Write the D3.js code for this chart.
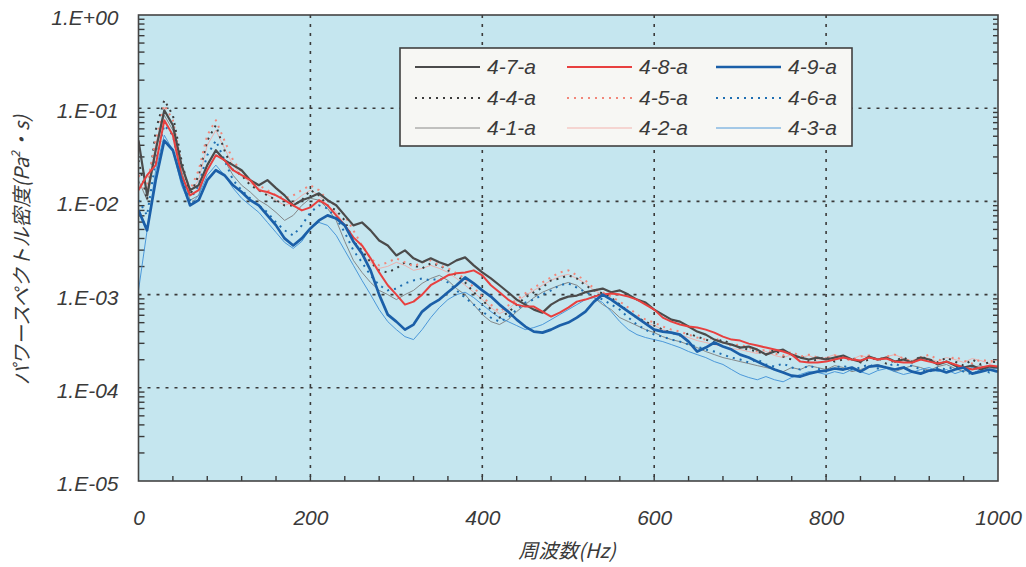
<!DOCTYPE html>
<html>
<head>
<meta charset="utf-8">
<script src="https://cdn.jsdelivr.net/npm/d3@7"></script>
<style>
  body { margin: 0; background: #ffffff; }
  svg text { font-family: "Liberation Sans", Arial, sans-serif; font-style: italic; fill: #3a3a3a; }
  svg text.jp { font-family: "Noto Sans CJK JP", sans-serif; }
</style>
</head>
<body>
<svg id="chart" width="1026" height="567"></svg>
<script>
// Frequency samples (Hz)
const freqHz = [0,10,20,30,40,50,60,70,80,90,100,110,120,130,140,150,160,170,180,190,
  200,210,220,230,240,250,260,270,280,290,300,310,320,330,340,350,360,370,380,390,
  400,410,420,430,440,450,460,470,480,490,500,510,520,530,540,550,560,570,580,590,
  600,610,620,630,640,650,660,670,680,690,700,710,720,730,740,750,760,770,780,790,
  800,810,820,830,840,850,860,870,880,890,900,910,920,930,940,950,960,970,980,990,1000];

// Power spectral density, Pa^2·s
const psd_4_1_a = [0.0169,0.0103,0.0354,0.0841,0.0581,0.0216,0.0103,0.0116,0.0245,0.0354,
  0.0277,0.0191,0.0149,0.0126,0.0103,0.00906,0.00762,0.00625,0.00708,0.00906,
  0.0108,0.0103,0.00841,0.00625,0.00372,0.00233,0.00173,0.00135,0.00111,1.0e-3,
  8.84e-4,1.0e-3,1.11e-3,1.32e-3,1.49e-3,1.61e-3,1.42e-3,1.16e-3,1.0e-3,7.81e-4,
  6.1e-4,5.13e-4,4.77e-4,5.39e-4,6.57e-4,7.81e-4,9.29e-4,1.06e-3,1.16e-3,1.26e-3,
  1.35e-3,1.26e-3,1.06e-3,9.29e-4,7.81e-4,6.9e-4,5.66e-4,5.13e-4,4.65e-4,4.21e-4,
  3.91e-4,3.54e-4,3.29e-4,3.13e-4,2.91e-4,2.70e-4,2.45e-4,2.27e-4,2.11e-4,2.01e-4,
  1.91e-4,1.82e-4,1.73e-4,1.65e-4,1.57e-4,1.49e-4,1.65e-4,1.57e-4,1.73e-4,1.65e-4,
  1.57e-4,1.73e-4,1.65e-4,1.49e-4,1.57e-4,1.69e-4,1.78e-4,1.65e-4,1.49e-4,1.61e-4,
  1.73e-4,1.65e-4,1.53e-4,1.69e-4,1.78e-4,1.61e-4,1.49e-4,1.65e-4,1.73e-4,1.57e-4,1.65e-4];

const psd_4_2_a = [0.0149,0.0132,0.0401,0.0952,0.0657,0.0227,0.0126,0.0169,0.0401,0.0581,
  0.0372,0.0245,0.0191,0.0157,0.0139,0.0119,0.0103,0.00906,0.00976,0.0116,
  0.0132,0.0116,0.00906,0.00762,0.00553,0.00363,0.00263,0.00222,0.00191,0.00201,
  0.00222,0.00206,0.00182,0.00191,0.00206,0.00191,0.00173,0.00149,0.00126,0.00106,
  8.84e-4,7.25e-4,6.25e-4,6.9e-4,8.41e-4,9.76e-4,1.11e-3,1.26e-3,1.42e-3,1.57e-3,
  1.65e-3,1.49e-3,1.32e-3,1.11e-3,1.0e-3,8.84e-4,7.62e-4,6.57e-4,5.66e-4,5.01e-4,
  4.65e-4,4.21e-4,3.91e-4,3.72e-4,3.46e-4,3.21e-4,3.06e-4,2.91e-4,2.77e-4,2.63e-4,
  2.57e-4,2.45e-4,2.33e-4,2.45e-4,2.22e-4,2.11e-4,2.27e-4,2.11e-4,2.22e-4,2.01e-4,
  2.11e-4,2.27e-4,2.11e-4,2.01e-4,2.22e-4,2.11e-4,1.96e-4,2.16e-4,2.27e-4,2.06e-4,
  1.96e-4,2.16e-4,2.06e-4,1.91e-4,2.11e-4,2.01e-4,1.87e-4,2.06e-4,1.96e-4,1.82e-4,2.01e-4];

const psd_4_3_a = [1.11e-3,0.00489,0.0216,0.0513,0.0354,0.0149,0.00906,0.0116,0.0191,0.0245,
  0.0191,0.0139,0.0108,0.00906,0.00762,0.00595,0.00465,0.00363,0.00313,0.00372,
  0.00513,0.00595,0.00553,0.00432,0.00298,0.00206,0.00142,1.0e-3,6.9e-4,5.13e-4,
  4.21e-4,3.54e-4,3.29e-4,4.21e-4,5.66e-4,7.25e-4,8.84e-4,1.0e-3,1.06e-3,9.29e-4,
  7.81e-4,6.57e-4,5.66e-4,5.13e-4,4.65e-4,4.21e-4,4.43e-4,4.77e-4,5.39e-4,6.1e-4,
  6.9e-4,7.81e-4,8.84e-4,9.29e-4,8.21e-4,6.57e-4,5.13e-4,4.21e-4,3.72e-4,3.46e-4,
  3.29e-4,3.13e-4,2.91e-4,2.70e-4,2.45e-4,2.27e-4,2.11e-4,1.91e-4,1.78e-4,1.57e-4,
  1.39e-4,1.29e-4,1.22e-4,1.32e-4,1.22e-4,1.16e-4,1.29e-4,1.39e-4,1.49e-4,1.46e-4,
  1.39e-4,1.49e-4,1.42e-4,1.57e-4,1.49e-4,1.39e-4,1.53e-4,1.61e-4,1.49e-4,1.39e-4,
  1.46e-4,1.57e-4,1.65e-4,1.49e-4,1.57e-4,1.42e-4,1.53e-4,1.65e-4,1.49e-4,1.57e-4,1.61e-4];

const psd_4_4_a = [0.0277,0.0103,0.0581,0.122,0.0841,0.0277,0.0116,0.0191,0.045,0.0657,
  0.0354,0.0216,0.0191,0.0149,0.0132,0.0116,0.0103,0.00906,0.00906,0.0103,
  0.0132,0.0116,0.00906,0.00801,0.00625,0.00372,0.00298,0.00222,0.00182,0.00173,
  0.00191,0.00222,0.00206,0.00191,0.00216,0.00206,0.00182,0.00161,0.00135,0.00106,
  8.84e-4,6.9e-4,5.66e-4,6.41e-4,7.81e-4,9.29e-4,1.06e-3,1.19e-3,1.42e-3,1.49e-3,
  1.61e-3,1.49e-3,1.26e-3,1.11e-3,1.03e-3,9.29e-4,7.81e-4,6.57e-4,5.66e-4,5.13e-4,
  4.65e-4,4.21e-4,3.91e-4,3.63e-4,3.81e-4,3.54e-4,3.29e-4,3.06e-4,3.29e-4,2.91e-4,
  2.70e-4,2.57e-4,2.45e-4,2.27e-4,2.57e-4,2.16e-4,2.01e-4,2.22e-4,1.91e-4,2.01e-4,
  2.16e-4,1.91e-4,2.01e-4,2.11e-4,1.87e-4,2.01e-4,2.11e-4,1.82e-4,1.96e-4,2.11e-4,
  1.91e-4,2.16e-4,2.01e-4,1.87e-4,2.11e-4,1.91e-4,1.73e-4,2.01e-4,1.78e-4,1.87e-4,1.91e-4];

const psd_4_5_a = [0.0191,0.0149,0.045,0.108,0.0743,0.0245,0.0132,0.0216,0.0513,0.0743,
  0.045,0.0277,0.0206,0.0169,0.0149,0.0132,0.0116,0.0108,0.0116,0.0132,
  0.0149,0.0132,0.0103,0.00906,0.00708,0.00489,0.00337,0.00245,0.00206,0.00222,
  0.00245,0.00222,0.00201,0.00222,0.00233,0.00206,0.00191,0.00169,0.00149,0.00119,
  9.52e-4,7.81e-4,6.57e-4,7.62e-4,8.84e-4,1.03e-3,1.19e-3,1.35e-3,1.53e-3,1.73e-3,
  1.82e-3,1.61e-3,1.42e-3,1.16e-3,1.06e-3,9.52e-4,8.41e-4,7.25e-4,6.1e-4,5.39e-4,
  5.01e-4,4.54e-4,4.21e-4,4.01e-4,3.72e-4,3.46e-4,3.29e-4,3.46e-4,3.06e-4,2.84e-4,
  2.91e-4,2.70e-4,2.45e-4,2.57e-4,2.33e-4,2.22e-4,2.45e-4,2.16e-4,2.27e-4,2.11e-4,
  2.01e-4,2.22e-4,2.06e-4,1.96e-4,2.16e-4,2.22e-4,2.01e-4,2.16e-4,2.27e-4,2.06e-4,
  1.91e-4,2.11e-4,2.27e-4,2.01e-4,1.91e-4,2.16e-4,1.96e-4,1.82e-4,2.01e-4,1.91e-4,2.01e-4];

const psd_4_6_a = [0.0103,0.00708,0.0277,0.0657,0.0513,0.0191,0.0103,0.0149,0.0313,0.045,
  0.0277,0.0169,0.0132,0.0108,0.00906,0.00762,0.00595,0.00489,0.00432,0.00553,
  0.00762,0.00906,0.00841,0.00657,0.00465,0.00298,0.00222,0.00161,0.00126,0.00111,
  0.00116,0.00132,0.00142,0.00149,0.00142,0.00149,0.00135,0.00111,9.29e-4,7.81e-4,
  6.57e-4,5.66e-4,5.13e-4,5.66e-4,6.9e-4,8.21e-4,8.84e-4,1.0e-3,1.11e-3,1.26e-3,
  1.32e-3,1.19e-3,1.06e-3,9.76e-4,8.84e-4,7.81e-4,6.9e-4,5.66e-4,4.77e-4,4.21e-4,
  3.72e-4,3.54e-4,3.29e-4,3.13e-4,2.91e-4,2.77e-4,2.57e-4,2.45e-4,2.27e-4,2.11e-4,
  2.01e-4,1.87e-4,2.01e-4,1.78e-4,1.69e-4,1.82e-4,1.65e-4,1.57e-4,1.73e-4,1.61e-4,
  1.49e-4,1.65e-4,1.73e-4,1.57e-4,1.65e-4,1.78e-4,1.61e-4,1.69e-4,1.82e-4,1.65e-4,
  1.73e-4,1.57e-4,1.49e-4,1.65e-4,1.57e-4,1.69e-4,1.49e-4,1.39e-4,1.57e-4,1.46e-4,1.53e-4];

const psd_4_7_a = [0.045,0.0116,0.0354,0.095,0.0657,0.0245,0.0132,0.0149,0.0245,0.0354,
  0.0277,0.0245,0.0216,0.0169,0.0149,0.0169,0.0139,0.0116,0.00906,0.0103,
  0.0111,0.0122,0.0103,0.0091,0.00708,0.00553,0.00595,0.00489,0.00381,0.00337,
  0.00263,0.00298,0.00245,0.00222,0.00245,0.00222,0.00206,0.00233,0.00251,0.00206,
  0.00173,0.00149,0.00126,0.00106,8.84e-4,7.81e-4,6.9e-4,6.41e-4,7.81e-4,8.84e-4,
  9.52e-4,9.76e-4,1.06e-3,1.11e-3,1.16e-3,1.06e-3,1.11e-3,1.0e-3,8.84e-4,8.21e-4,
  6.9e-4,6.1e-4,5.39e-4,5.13e-4,4.54e-4,4.01e-4,3.72e-4,3.29e-4,3.06e-4,2.91e-4,
  2.70e-4,2.77e-4,2.57e-4,2.27e-4,2.45e-4,2.57e-4,2.27e-4,2.11e-4,2.01e-4,2.11e-4,
  2.01e-4,2.11e-4,2.22e-4,2.01e-4,1.91e-4,2.16e-4,2.01e-4,2.11e-4,1.91e-4,2.01e-4,
  1.87e-4,2.11e-4,2.01e-4,1.78e-4,1.91e-4,1.73e-4,1.65e-4,1.73e-4,1.57e-4,1.69e-4,1.65e-4];

const psd_4_8_a = [0.0132,0.0191,0.0245,0.0743,0.0513,0.0191,0.0116,0.0132,0.0216,0.0313,
  0.0277,0.0216,0.0191,0.0169,0.0132,0.0126,0.0116,0.0103,0.00906,0.00801,
  0.00862,0.0103,0.00906,0.00708,0.00553,0.00411,0.00337,0.00245,0.00173,0.00126,
  1.0e-3,7.81e-4,8.41e-4,1.0e-3,1.26e-3,1.42e-3,1.61e-3,1.69e-3,1.73e-3,1.82e-3,
  1.61e-3,1.26e-3,1.06e-3,8.84e-4,7.81e-4,7.43e-4,7.43e-4,6.57e-4,5.81e-4,6.41e-4,
  7.25e-4,8.41e-4,8.84e-4,9.52e-4,1.0e-3,1.03e-3,1.0e-3,9.52e-4,8.84e-4,7.81e-4,
  6.9e-4,5.66e-4,5.13e-4,4.77e-4,4.54e-4,4.43e-4,4.21e-4,3.91e-4,3.54e-4,3.29e-4,
  3.21e-4,2.98e-4,2.84e-4,2.70e-4,2.57e-4,2.45e-4,2.27e-4,1.91e-4,1.87e-4,1.87e-4,
  1.91e-4,2.01e-4,2.11e-4,2.01e-4,1.96e-4,2.11e-4,2.01e-4,2.06e-4,1.91e-4,1.87e-4,
  1.87e-4,2.01e-4,1.91e-4,1.82e-4,1.91e-4,1.78e-4,1.65e-4,1.57e-4,1.65e-4,1.73e-4,1.69e-4];

const psd_4_9_a = [0.00801,0.00489,0.0169,0.045,0.0354,0.0169,0.00906,0.0103,0.0169,0.0216,
  0.0191,0.0149,0.0126,0.0103,0.00906,0.00708,0.00553,0.00401,0.00337,0.00401,
  0.00513,0.00625,0.00708,0.00657,0.00553,0.00372,0.00277,0.00182,1.0e-3,6.1e-4,
  5.13e-4,4.21e-4,4.77e-4,6.57e-4,7.81e-4,8.84e-4,1.06e-3,1.26e-3,1.53e-3,1.32e-3,
  1.11e-3,9.52e-4,7.81e-4,6.57e-4,5.39e-4,4.54e-4,4.01e-4,3.91e-4,4.21e-4,4.65e-4,
  5.01e-4,5.66e-4,6.57e-4,8.41e-4,1.0e-3,8.84e-4,7.62e-4,6.57e-4,5.66e-4,4.89e-4,
  4.21e-4,4.01e-4,3.91e-4,3.72e-4,3.13e-4,2.45e-4,2.70e-4,3.06e-4,2.77e-4,2.57e-4,
  2.27e-4,2.11e-4,1.91e-4,1.73e-4,1.57e-4,1.46e-4,1.35e-4,1.32e-4,1.42e-4,1.49e-4,
  1.53e-4,1.61e-4,1.57e-4,1.65e-4,1.49e-4,1.69e-4,1.73e-4,1.65e-4,1.57e-4,1.65e-4,
  1.49e-4,1.42e-4,1.53e-4,1.57e-4,1.46e-4,1.57e-4,1.65e-4,1.42e-4,1.49e-4,1.57e-4,1.49e-4];

// Series names in drawing order (thin, dotted, then thick on top)
const seriesNames = ["4-1-a","4-2-a","4-3-a","4-4-a","4-5-a","4-6-a","4-7-a","4-8-a","4-9-a"];
const seriesValues = [psd_4_1_a, psd_4_2_a, psd_4_3_a, psd_4_4_a, psd_4_5_a, psd_4_6_a, psd_4_7_a, psd_4_8_a, psd_4_9_a];

// Legend order (row by row)
const legendOrder = ["4-7-a","4-8-a","4-9-a","4-4-a","4-5-a","4-6-a","4-1-a","4-2-a","4-3-a"];

// Axis ticks and labels
const xTicks = [0,200,400,600,800,1000];
const yTicks = [1,1e-1,1e-2,1e-3,1e-4,1e-5];
const yTickLabels = ["1.E+00","1.E-01","1.E-02","1.E-03","1.E-04","1.E-05"];
const xTitle = "周波数(Hz)";

// Line styles per series
const styles = {
  "4-1-a": { color: "#7d7d7d", width: 0.9, dash: null },
  "4-2-a": { color: "#f2aaa6", width: 0.9, dash: null },
  "4-3-a": { color: "#3d8ed6", width: 0.9, dash: null },
  "4-4-a": { color: "#3c3c3c", width: 2.0, dash: "2,5" },
  "4-5-a": { color: "#f2877a", width: 2.0, dash: "2,5" },
  "4-6-a": { color: "#1f6fb2", width: 2.0, dash: "2,5" },
  "4-7-a": { color: "#4b4b4b", width: 2.2, dash: null },
  "4-8-a": { color: "#e8403f", width: 2.0, dash: null },
  "4-9-a": { color: "#1b5fa8", width: 2.7, dash: null }
};

const svg = d3.select("#chart");
const plot = { left: 138.5, right: 998, top: 15, bottom: 481 };

const x = d3.scaleLinear().domain([0, 1000]).range([plot.left, plot.right]);
const y = d3.scaleLog().domain([1e-5, 1]).range([plot.bottom, plot.top]);

// Plot background
svg.append("rect")
  .attr("x", plot.left).attr("y", plot.top)
  .attr("width", plot.right - plot.left).attr("height", plot.bottom - plot.top)
  .attr("fill", "#c5e6ef");

// Dashed grid
const grid = svg.append("g").attr("stroke", "#3a3a3a").attr("stroke-width", 1.6).attr("stroke-dasharray", "3,6");
grid.selectAll("line.h").data(yTicks.slice(1, -1)).join("line")
  .attr("x1", plot.left).attr("x2", plot.right)
  .attr("y1", d => y(d)).attr("y2", d => y(d));
grid.selectAll("line.v").data(xTicks.slice(1, -1)).join("line")
  .attr("y1", plot.top).attr("y2", plot.bottom)
  .attr("x1", d => x(d)).attr("x2", d => x(d));

// Minor ticks on the left and right edges (log), bottom every 40 Hz
const minorY = y.ticks().filter(v => Math.abs(Math.log10(v) - Math.round(Math.log10(v))) > 1e-6);
const ticksG = svg.append("g").attr("stroke", "#3a3a3a").attr("stroke-width", 1.4);
ticksG.selectAll("line.l").data(minorY).join("line")
  .attr("x1", plot.left).attr("x2", plot.left + 6)
  .attr("y1", d => y(d)).attr("y2", d => y(d));
ticksG.selectAll("line.r").data(minorY).join("line")
  .attr("x1", plot.right - 5).attr("x2", plot.right)
  .attr("y1", d => y(d)).attr("y2", d => y(d));
ticksG.selectAll("line.b").data(d3.range(40, 1000, 40)).join("line")
  .attr("x1", d => x(d)).attr("x2", d => x(d))
  .attr("y1", plot.bottom - 5).attr("y2", plot.bottom);

// Clip for the spectra
svg.append("clipPath").attr("id", "plotClip").append("rect")
  .attr("x", plot.left).attr("y", plot.top)
  .attr("width", plot.right - plot.left).attr("height", plot.bottom - plot.top);

const line = d3.line()
  .x((d, i) => x(freqHz[i]))
  .y(d => y(d));

const linesG = svg.append("g").attr("clip-path", "url(#plotClip)");
seriesNames.forEach((name, k) => {
  const s = styles[name];
  linesG.append("path")
    .datum(seriesValues[k])
    .attr("fill", "none")
    .attr("stroke", s.color)
    .attr("stroke-width", s.width)
    .attr("stroke-linejoin", "round")
    .attr("stroke-dasharray", s.dash)
    .attr("d", line);
});

// Plot frame
svg.append("rect")
  .attr("x", plot.left).attr("y", plot.top)
  .attr("width", plot.right - plot.left).attr("height", plot.bottom - plot.top)
  .attr("fill", "none").attr("stroke", "#444").attr("stroke-width", 1.6);

// Axes
const yAxis = d3.axisLeft(y).tickValues(yTicks)
  .tickFormat((d, i) => yTickLabels[i]).tickSize(0).tickPadding(20);
const yAxisG = svg.append("g").attr("transform", `translate(${plot.left},0)`).call(yAxis);
yAxisG.select(".domain").remove();
yAxisG.selectAll("text").attr("font-size", 21).attr("fill", "#3a3a3a")
  .style("font-family", "'Liberation Sans', Arial, sans-serif").style("font-style", "italic")
  .attr("dy", "0.45em");

const xAxis = d3.axisBottom(x).tickValues(xTicks).tickFormat(d3.format("d")).tickSize(0).tickPadding(29);
const xAxisG = svg.append("g").attr("transform", `translate(0,${plot.bottom})`).call(xAxis);
xAxisG.select(".domain").remove();
xAxisG.selectAll("text").attr("font-size", 21).attr("fill", "#3a3a3a")
  .style("font-family", "'Liberation Sans', Arial, sans-serif").style("font-style", "italic");

// Axis titles
svg.append("text").attr("class", "jp")
  .attr("x", 567).attr("y", 558)
  .attr("text-anchor", "middle").attr("font-size", 20)
  .text(xTitle);

const yTitle = svg.append("text").attr("class", "jp")
  .attr("transform", "translate(29,250) rotate(-90)")
  .attr("text-anchor", "middle").attr("font-size", 20);
yTitle.append("tspan").text("パワースペクトル密度(Pa");
yTitle.append("tspan").attr("font-size", 12).attr("dy", -9).text("2");
yTitle.append("tspan").attr("dy", 9).text("・s)");

// Legend
const legend = { x: 400, y: 48, w: 452, h: 98 };
const legG = svg.append("g");
legG.append("rect")
  .attr("x", legend.x).attr("y", legend.y).attr("width", legend.w).attr("height", legend.h)
  .attr("fill", "#f7f7f4").attr("stroke", "#404040").attr("stroke-width", 1.6);
const colX = [415, 567, 716];
const rowY = [67, 98, 128];
legendOrder.forEach((name, i) => {
  const cx = colX[i % 3], cy = rowY[Math.floor(i / 3)];
  const s = styles[name];
  legG.append("line")
    .attr("x1", cx).attr("x2", cx + 65).attr("y1", cy).attr("y2", cy)
    .attr("stroke", s.color).attr("stroke-width", s.width).attr("stroke-dasharray", s.dash);
  legG.append("text")
    .attr("x", cx + 72).attr("y", cy + 7)
    .attr("font-size", 21)
    .text(name);
});
</script>
</body>
</html>
